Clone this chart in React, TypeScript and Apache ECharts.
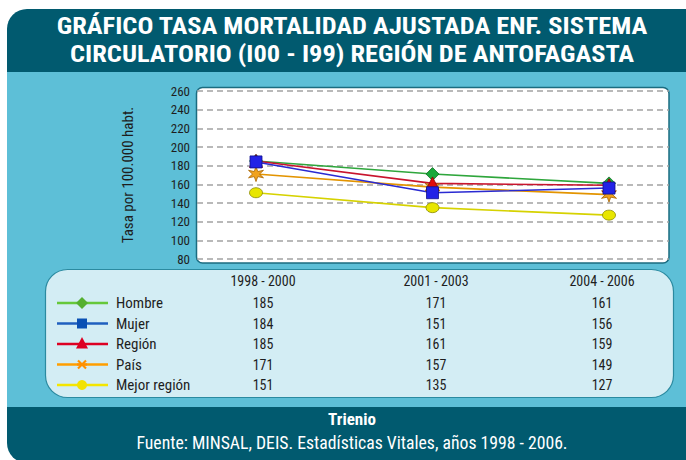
import React, { useEffect, useRef } from 'react';
import * as echarts from 'echarts';

const W = 686;
const H = 460;

const titleLines = [
  'GRÁFICO TASA MORTALIDAD AJUSTADA ENF. SISTEMA',
  'CIRCULATORIO (I00 - I99) REGIÓN DE ANTOFAGASTA',
];
const categories = ['1998 - 2000', '2001 - 2003', '2004 - 2006'];
const seriesNames = ['Hombre', 'Mujer', 'Región', 'País', 'Mejor región'];
const hombre = [185, 171, 161];
const mujer = [184, 151, 156];
const region = [185, 161, 159];
const pais = [171, 157, 149];
const mejorRegion = [151, 135, 127];
const yMin = 80;
const yMax = 260;
const yStep = 20;
const yName = 'Tasa por 100.000 habt.';
const xName = 'Trienio';
const source = 'Fuente: MINSAL, DEIS. Estadísticas Vitales, años 1998 - 2006.';

const seriesValues = [hombre, mujer, region, pais, mejorRegion];

const NARROW = "'Liberation Sans Narrow', 'Arial Narrow', 'Roboto Condensed', 'Liberation Sans', sans-serif";
const STAR = 'path://M50,0 L60,33 L93,25 L70,50 L93,75 L60,67 L50,100 L40,67 L7,75 L30,50 L7,25 L40,33 Z';

const lineColors = ['#2fa63c', '#2a2ad2', '#c8142e', '#e39400', '#d6d200'];
const markerColors = ['#19a83a', '#2222e6', '#e00c0c', '#f0a21e', '#e8e600'];
const markerBorders = ['#0d6e22', '#10108a', '#8a0000', '#a86400', '#8a8a00'];
const symbols = ['diamond', 'rect', 'triangle', STAR, 'circle'];
const symbolSizes: any[] = [13, 12, 13, 15, [13, 10]];

const legLineColors = ['#66c83a', '#1f5fbf', '#dd0022', '#ff9e00', '#f4e600'];
const legMarkColors = ['#55b030', '#0a50b4', '#dd0022', '#ff9000', '#f2e200'];

// draw order: Mujer last (on top)
const drawOrder = [4, 3, 0, 2, 1];

function buildOption() {
  const colX = [263, 436, 602];
  const headerY = 281;
  const rowY0 = 303;
  const rowStep = 20.5;
  const graphics: any[] = [];

  graphics.push({ type: 'rect', z: -30, shape: { x: 7, y: 9, width: 720, height: 454, r: 20 }, style: { fill: '#015a6f' } });
  graphics.push({ type: 'rect', z: -29, shape: { x: 7, y: 72, width: 700, height: 335 }, style: { fill: '#5dbfd7' } });
  graphics.push({ type: 'rect', z: -28, shape: { x: 196.5, y: 87.5, width: 472.5, height: 175.5, r: 6 }, style: { fill: '#ffffff', stroke: '#1b6c80', lineWidth: 1.5 } });
  graphics.push({ type: 'rect', z: -28, shape: { x: 45.5, y: 269.5, width: 628, height: 128, r: 22 }, style: { fill: '#d3edf4', stroke: '#2b8aa0', lineWidth: 1.2 } });

  titleLines.forEach((t, i) => {
    graphics.push({
      type: 'text', z: 10, x: 352, y: 26 + i * 28, scaleX: 1.125,
      style: {
        text: t, fill: '#ffffff', fontSize: 23.5, fontWeight: 'bold',
        fontFamily: NARROW, textAlign: 'center', textVerticalAlign: 'middle',
      },
    });
  });

  categories.forEach((c, j) => {
    graphics.push({
      type: 'text', z: 10, x: colX[j], y: headerY,
      style: { text: c, fill: '#1e1e1e', fontSize: 14, fontFamily: NARROW, textAlign: 'center', textVerticalAlign: 'middle' },
    });
  });

  seriesNames.forEach((n, i) => {
    const y = rowY0 + i * rowStep;
    graphics.push({ type: 'line', z: 10, shape: { x1: 57, y1: y, x2: 108, y2: y }, style: { stroke: legLineColors[i], lineWidth: 2.5 } });
    const mc = legMarkColors[i];
    const cx = 82;
    if (i === 0) {
      graphics.push({ type: 'polygon', z: 11, shape: { points: [[cx, y - 6], [cx + 6, y], [cx, y + 6], [cx - 6, y]] }, style: { fill: mc } });
    } else if (i === 1) {
      graphics.push({ type: 'rect', z: 11, shape: { x: cx - 5, y: y - 5, width: 10, height: 10 }, style: { fill: mc } });
    } else if (i === 2) {
      graphics.push({ type: 'polygon', z: 11, shape: { points: [[cx, y - 7], [cx + 6, y + 4.5], [cx - 6, y + 4.5]] }, style: { fill: mc } });
    } else if (i === 3) {
      graphics.push({ type: 'line', z: 11, shape: { x1: cx - 4, y1: y - 4, x2: cx + 4, y2: y + 4 }, style: { stroke: mc, lineWidth: 2.2 } });
      graphics.push({ type: 'line', z: 11, shape: { x1: cx - 4, y1: y + 4, x2: cx + 4, y2: y - 4 }, style: { stroke: mc, lineWidth: 2.2 } });
      graphics.push({ type: 'line', z: 11, shape: { x1: cx - 5, y1: y, x2: cx + 5, y2: y }, style: { stroke: mc, lineWidth: 2.2 } });
    } else {
      graphics.push({ type: 'circle', z: 11, shape: { cx, cy: y, r: 5 }, style: { fill: mc } });
    }
    graphics.push({
      type: 'text', z: 10, x: 116, y,
      style: { text: n, fill: '#1e1e1e', fontSize: 15, fontFamily: NARROW, textAlign: 'left', textVerticalAlign: 'middle' },
    });
    seriesValues[i].forEach((v, j) => {
      graphics.push({
        type: 'text', z: 10, x: colX[j], y,
        style: { text: String(v), fill: '#1e1e1e', fontSize: 14, fontFamily: NARROW, textAlign: 'center', textVerticalAlign: 'middle' },
      });
    });
  });

  graphics.push({
    type: 'text', z: 10, x: 352, y: 419,
    style: { text: xName, fill: '#ffffff', fontSize: 17, fontWeight: 'bold', fontFamily: NARROW, textAlign: 'center', textVerticalAlign: 'middle' },
  });
  graphics.push({
    type: 'text', z: 10, x: 352, y: 443,
    style: { text: source, fill: '#ffffff', fontSize: 17.7, fontFamily: NARROW, textAlign: 'center', textVerticalAlign: 'middle' },
  });

  const gridTop = 91;
  const gridHeight = 168;

  return {
    animation: false,
    grid: [
      { left: 197, width: 472, top: gridTop, height: gridHeight },
      { left: 256, width: 353, top: gridTop, height: gridHeight },
    ],
    xAxis: [
      { type: 'category', gridIndex: 0, show: false, data: categories },
      { type: 'category', gridIndex: 1, show: false, boundaryGap: false, data: categories },
    ],
    yAxis: [
      {
        type: 'value', gridIndex: 0, min: yMin, max: yMax, interval: yStep,
        name: yName, nameLocation: 'middle', nameGap: 62, nameRotate: 90,
        nameTextStyle: { color: '#1e1e1e', fontSize: 15, fontFamily: NARROW },
        axisLine: { show: false }, axisTick: { show: false },
        axisLabel: { color: '#1e1e1e', fontSize: 13, fontFamily: NARROW, margin: 7 },
        splitLine: { show: true, lineStyle: { color: '#a2a2a2', width: 1.5, type: [6, 4] } },
      },
      { type: 'value', gridIndex: 1, min: yMin, max: yMax, show: false, splitLine: { show: false } },
    ],
    graphic: { elements: graphics },
    series: drawOrder.map((i) => ({
      type: 'line',
      name: seriesNames[i],
      xAxisIndex: 1,
      yAxisIndex: 1,
      data: seriesValues[i],
      symbol: symbols[i],
      symbolSize: symbolSizes[i],
      showSymbol: true,
      lineStyle: { color: lineColors[i], width: 1.6 },
      itemStyle: { color: markerColors[i], borderColor: markerBorders[i], borderWidth: 0.8 },
      z: 3,
    })),
  };
}

export default function App() {
  const ref = useRef<HTMLDivElement>(null);
  useEffect(() => {
    if (!ref.current) return;
    const chart = echarts.init(ref.current, null, { renderer: 'svg', width: W, height: H });
    chart.setOption(buildOption() as any);
    return () => chart.dispose();
  }, []);
  return <div ref={ref} style={{ position: 'fixed', left: 0, top: 0, width: W, height: H, background: '#ffffff' }} />;
}
